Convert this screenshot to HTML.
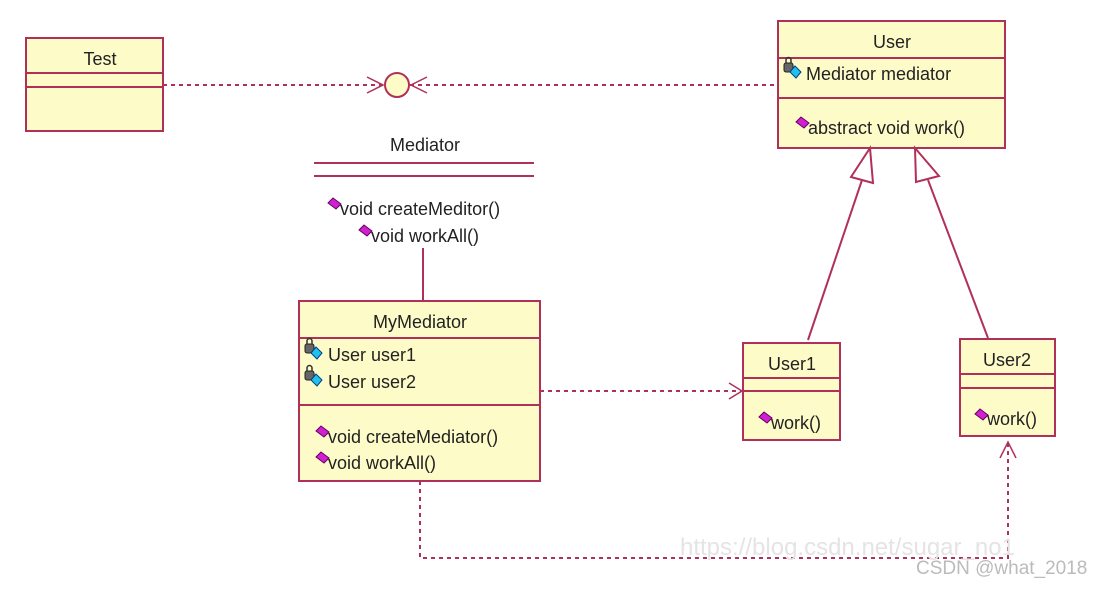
<!DOCTYPE html>
<html><head><style>
body{margin:0;background:#fff;}
svg text{font-family:"Liberation Sans",sans-serif;font-size:18px;fill:#222;}
</style></head><body>
<svg width="1105" height="585" viewBox="0 0 1105 585" xmlns="http://www.w3.org/2000/svg">
<defs>
<g id="m"><path d="M0,0 l5,-5 l8,6 l-5,5 z" fill="#d020d0" stroke="#600060" stroke-width="1"/></g>
<g id="a"><rect x="0" y="-9" width="9" height="9" rx="2" fill="#666" stroke="#222"/><path d="M2,-9 v-3 a2.5,2.5 0 0 1 5,0 v3" fill="none" stroke="#333" stroke-width="1.5"/><path d="M6,0 l5,-6 l6,6 l-5,6 z" fill="#20c0f0" stroke="#004080"/></g>
</defs>
<g stroke="#b0305a" stroke-width="2" fill="#fdfbc8">
<rect x="26" y="38" width="137" height="93"/>
<line x1="26" y1="73" x2="163" y2="73"/><line x1="26" y1="87" x2="163" y2="87"/>
<rect x="778" y="21" width="227" height="127"/>
<line x1="778" y1="58" x2="1005" y2="58"/><line x1="778" y1="98" x2="1005" y2="98"/>
<rect x="299" y="301" width="241" height="180"/>
<line x1="299" y1="338" x2="540" y2="338"/><line x1="299" y1="405" x2="540" y2="405"/>
<rect x="743" y="343" width="97" height="97"/>
<line x1="743" y1="378" x2="840" y2="378"/><line x1="743" y1="391" x2="840" y2="391"/>
<rect x="960" y="339" width="95" height="97"/>
<line x1="960" y1="374" x2="1055" y2="374"/><line x1="960" y1="388" x2="1055" y2="388"/>
<line x1="314" y1="163" x2="534" y2="163"/><line x1="314" y1="176" x2="534" y2="176"/>
<line x1="423" y1="248" x2="423" y2="301"/>
<line x1="808" y1="340" x2="862" y2="180"/>
<line x1="988" y1="338" x2="928" y2="180"/>
<polygon points="870,148 851,177 873,183" fill="#fff"/>
<polygon points="915,148 916,182 939,176" fill="#fff"/>
<g fill="none" stroke-dasharray="4,4">
<line x1="163" y1="85" x2="384" y2="85"/><line x1="410" y1="85" x2="778" y2="85"/>
<line x1="540" y1="391" x2="741" y2="391"/>
<polyline points="420,481 420,558 1008,558 1008,442"/>
</g>
<circle cx="397" cy="85" r="12"/>
<g fill="none" stroke-width="1.5">
<polyline points="367,77 383,85 367,93"/><polyline points="427,77 411,85 427,93"/>
<polyline points="729,383 742,391 729,399"/>
<polyline points="1000,458 1008,442 1016,458"/>
</g>
</g>
<text x="100" y="65" text-anchor="middle">Test</text>
<text x="892" y="48" text-anchor="middle">User</text>
<use href="#a" x="784" y="72"/><text x="806" y="80">Mediator mediator</text>
<use href="#m" x="796" y="122"/><text x="808" y="134">abstract void work()</text>
<text x="425" y="151" text-anchor="middle">Mediator</text>
<use href="#m" x="328" y="203"/><text x="340" y="215">void createMeditor()</text>
<use href="#m" x="359" y="230"/><text x="371" y="242">void workAll()</text>
<text x="420" y="328" text-anchor="middle">MyMediator</text>
<use href="#a" x="305" y="353"/><text x="328" y="361">User user1</text>
<use href="#a" x="305" y="380"/><text x="328" y="388">User user2</text>
<use href="#m" x="316" y="431"/><text x="328" y="443">void createMediator()</text>
<use href="#m" x="316" y="457"/><text x="328" y="469">void workAll()</text>
<text x="792" y="370" text-anchor="middle">User1</text>
<use href="#m" x="759" y="417"/><text x="771" y="429">work()</text>
<text x="1007" y="366" text-anchor="middle">User2</text>
<use href="#m" x="975" y="414"/><text x="987" y="425">work()</text>
<text x="680" y="555" style="font-size:24px;fill:#e4e4e4">https://blog.csdn.net/sugar_no1</text>
<text x="916" y="574" style="font-size:19px;fill:#bbb">CSDN @what_2018</text>
</svg>
</body></html>
